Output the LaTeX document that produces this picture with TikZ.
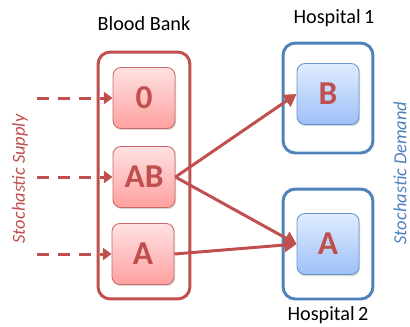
\documentclass[tikz,border=0pt]{standalone}
\usepackage{fontspec}
\setmainfont{Carlito}
\usepackage{tikz}
\usetikzlibrary{arrows.meta}
\usetikzlibrary{shadows}

\definecolor{bankred}{RGB}{192,80,77}
\definecolor{hospblue}{RGB}{79,129,189}
\definecolor{redtop}{RGB}{255,226,226}
\definecolor{redbot}{RGB}{255,160,160}
\definecolor{bluetop}{RGB}{224,236,254}
\definecolor{bluebot}{RGB}{158,192,248}

\tikzset{
  title/.style={font=\fontsize{11.5}{13}\selectfont},
  outerbank/.style={draw=bankred, line width=1.7pt, rounded corners=7pt, minimum width=1.84cm, minimum height=4.94cm},
  outerhosp/.style={draw=hospblue, line width=1.7pt, rounded corners=7pt, minimum width=1.8cm, minimum height=2.2cm},
  redtype/.style={draw=bankred!85, line width=0.5pt, rounded corners=4.5pt, top color=redtop, bottom color=redbot,
    minimum width=1.24cm, minimum height=1.22cm, text=bankred, font=\fontsize{19}{22}\selectfont\bfseries,
    drop shadow={opacity=0.3, shadow xshift=0.6pt, shadow yshift=-0.9pt}},
  bluetype/.style={draw=hospblue!85, line width=0.5pt, rounded corners=4.5pt, top color=bluetop, bottom color=bluebot,
    minimum width=1.24cm, minimum height=1.22cm, text=bankred, font=\fontsize{19}{22}\selectfont\bfseries,
    drop shadow={opacity=0.3, shadow xshift=0.6pt, shadow yshift=-0.9pt}},
  supply/.style={draw=bankred, line width=1.7pt, dash pattern=on 7pt off 5pt, -{Triangle[length=5pt, width=7pt]}},
  flow/.style={draw=bankred, line width=1.7pt, -{Triangle[length=7pt, width=8pt]}},
}

\begin{document}
\begin{tikzpicture}[x=0.02cm, y=-0.02cm]
      \useasboundingbox (0,0) rectangle (410,326);

      % blood bank
      \node[title] (banktitle) at (144,24) {Blood Bank};
      \node[outerbank] (bank) at (144,175.5) {};
      \node[redtype] (zero) at (144,98) {0};
      \node[redtype] (ab) at (144,177) {AB};
      \node[redtype] (a) at (143,254) {A};

      % hospitals
      \node[title] (h1title) at (334,18) {Hospital\,1};
      \node[outerhosp] (hosp1) at (328,98) {};
      \node[bluetype] (b1) at (328,94) {B};
      \node[title] (h2title) at (328,315) {Hospital\,2};
      \node[outerhosp] (hosp2) at (328,244) {};
      \node[bluetype] (a2) at (328,244) {A};

      % side labels
      \node[rotate=90, text=bankred, font=\fontsize{10.5}{12}\selectfont\itshape] (supplylabel) at (20,179) {Stochastic Supply};
      \node[rotate=90, text=hospblue, font=\fontsize{10.5}{12}\selectfont\itshape] (demandlabel) at (400,173) {Stochastic Demand};

      % supply arrows
      \coordinate (s0) at (37,98);
      \coordinate (s1) at (37,177);
      \coordinate (s2) at (37,254);
      \draw[supply] (s0) -- (zero);
      \draw[supply] (s1) -- (ab);
      \draw[supply] (s2) -- (a);

      % allocation
      \draw[flow] (ab.east) -- (b1.west);
      \draw[flow] (ab.east) -- (a2.west);
      \draw[flow] (a.east) -- (a2.west);
    \end{tikzpicture}
\end{document}
